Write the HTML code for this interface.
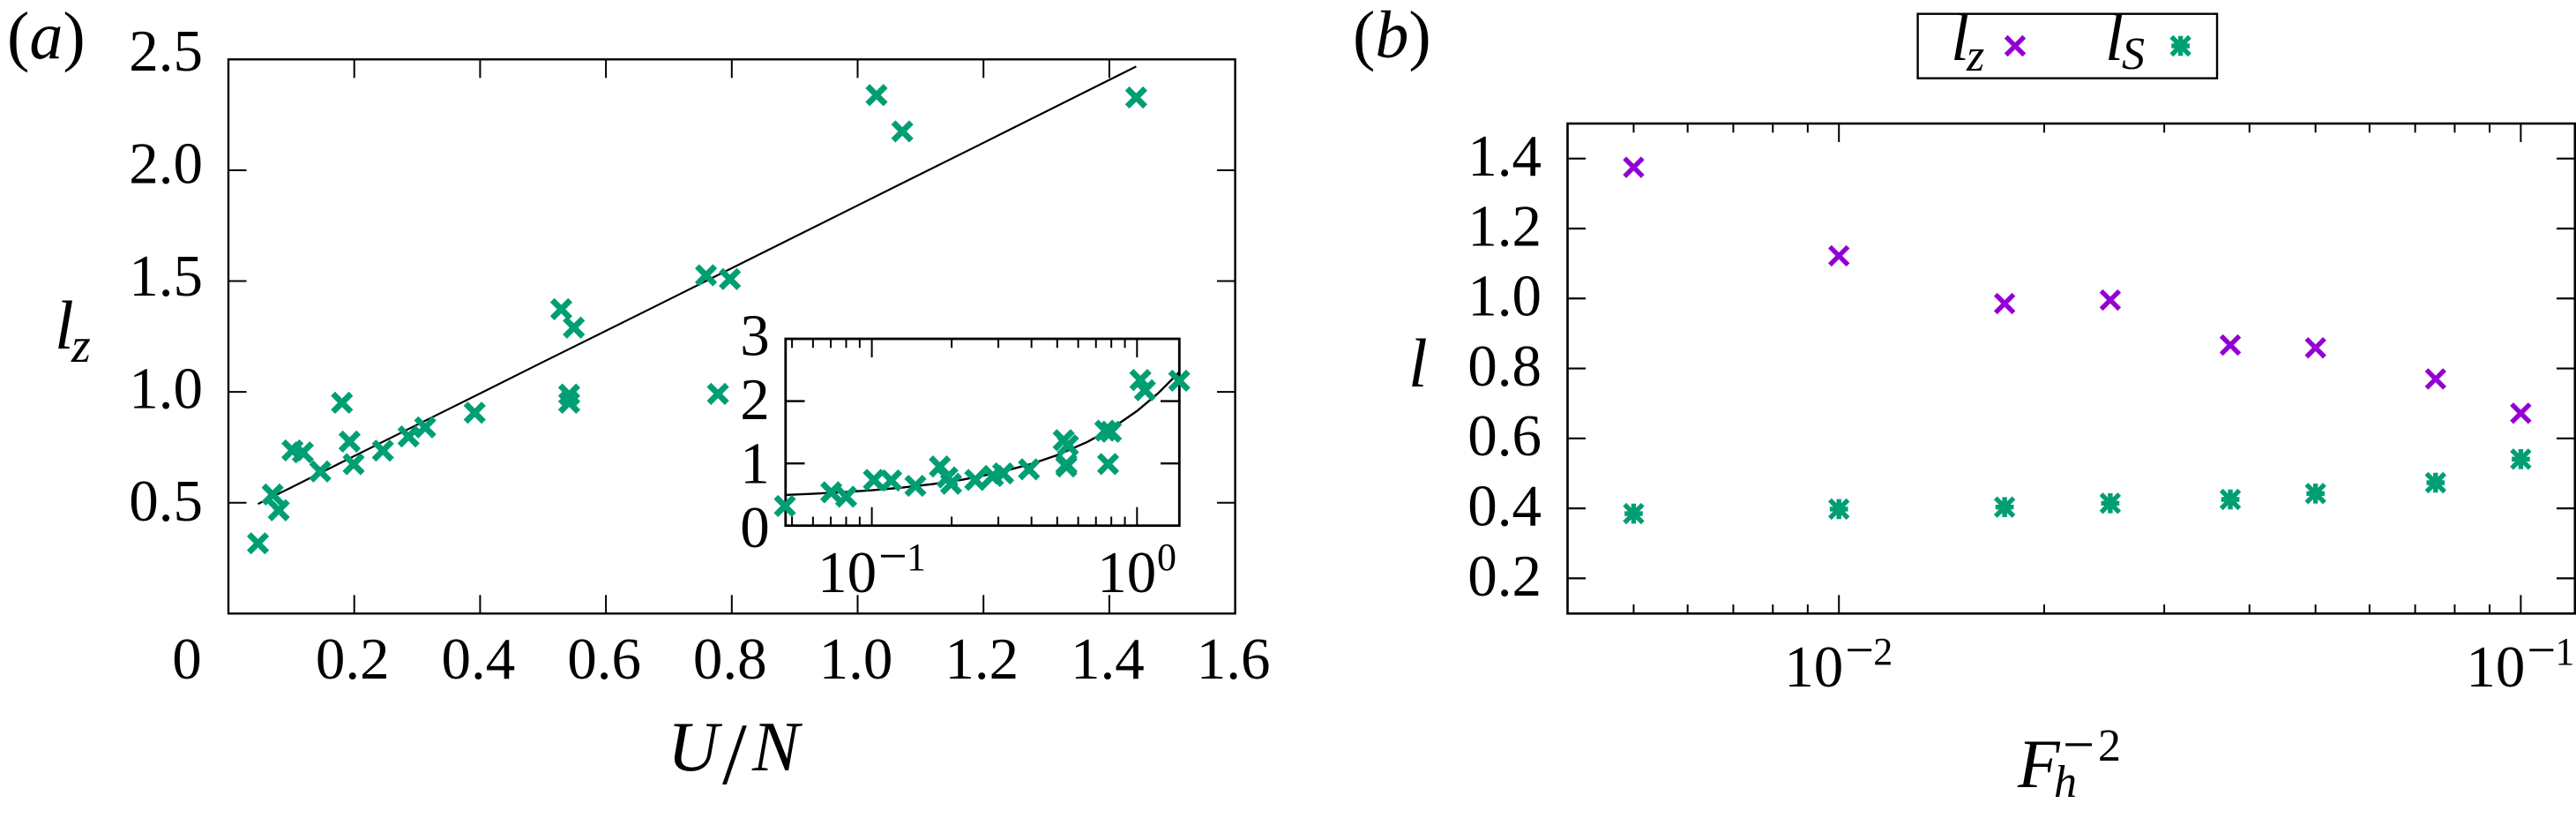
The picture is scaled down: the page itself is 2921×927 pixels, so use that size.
<!DOCTYPE html>
<html lang="en">
<head>
<meta charset="utf-8">
<title>Length scales versus U/N and Fh^-2</title>
<style>
html,body{margin:0;padding:0;background:#fff;width:2921px;height:927px;overflow:hidden}
svg{display:block}
text{font-family:"Liberation Serif","Times New Roman",serif;fill:#000}
.it{font-style:italic}
</style>
</head>
<body>
<svg id="fig" xmlns="http://www.w3.org/2000/svg" width="2921" height="927" viewBox="0 0 2921 927">
  <rect x="0" y="0" width="2921" height="927" fill="#fff"/>

  <g id="panel-a">
    <text x="8" y="66" font-size="76">(<tspan class="it">a</tspan>)</text>
    <g>
      <text class="it" x="62" y="395" font-size="78">l</text>
      <text class="it" x="81" y="410" font-size="56">z</text>
    </g>
    <g>
      <text class="it" x="757" y="873" font-size="80">U</text>
      <text x="819" y="888" font-size="100">/</text>
      <text class="it" x="853" y="873" font-size="80">N</text>
    </g>
    <rect x="259" y="67.3" width="1141.6" height="628" fill="none" stroke="#000" stroke-width="2.4"/>
    <g id="a-ticks"></g>
    <g id="a-marks"></g>
  </g>

  <g id="panel-inset">
    <rect x="890.8" y="384" width="446.5" height="211.7" fill="none" stroke="#000" stroke-width="2.8"/>
    <g id="i-ticks"></g>
    <g id="i-marks"></g>
  </g>

  <g id="panel-b">
    <text x="1534" y="65" font-size="76">(<tspan class="it">b</tspan>)</text>
    <text class="it" x="1597" y="438" font-size="78">l</text>
    <g>
      <text class="it" x="2288" y="892" font-size="78">F</text>
      <text class="it" x="2329" y="903" font-size="52">h</text>
      <text x="2339" y="865" font-size="64">−</text>
      <text x="2379" y="862" font-size="52">2</text>
    </g>
    <rect x="1777.5" y="140" width="1142.3" height="555.3" fill="none" stroke="#000" stroke-width="2.6"/>
    <g id="b-ticks"></g>
    <g id="b-marks"></g>
    <g id="legend">
      <rect x="2174.6" y="15.7" width="339.4" height="73" fill="#fff" stroke="#000" stroke-width="2.4"/>
      <g>
        <text class="it" x="2212" y="68" font-size="76">l</text>
        <text class="it" x="2230" y="80" font-size="52">z</text>
      </g>
      <g>
        <text class="it" x="2387" y="68" font-size="76">l</text>
        <text class="it" x="2406" y="78" font-size="52">S</text>
      </g>
    </g>
  </g>
</svg>

<script>
// Panel (a) data: lz against U/N
var uValues = [0.047,0.0703,0.08,0.1018,0.1183,0.146,0.1805,0.1926,0.199,0.2455,0.2863,0.3127,0.3914,0.529,0.5416,0.5416,0.549,0.759,0.778,0.797,1.03,1.071,1.4427];
var lzValues = [0.317,0.537,0.466,0.736,0.727,0.641,0.951,0.776,0.674,0.735,0.799,0.84,0.906,1.373,0.988,0.951,1.29,1.526,0.991,1.509,2.339,2.175,2.328];
// Fitted curve
var fitU = [0.047,0.06,0.08,0.1,0.13,0.17,0.22,0.3,0.4,0.5,0.65,0.8,1.0,1.2,1.4427];
var fitL = [0.494,0.513,0.541,0.569,0.612,0.668,0.739,0.852,0.993,1.135,1.346,1.558,1.841,2.124,2.468];
var aXTicks = [0,0.2,0.4,0.6,0.8,1.0,1.2,1.4,1.6];
var aXLabels = ['0','0.2','0.4','0.6','0.8','1.0','1.2','1.4','1.6'];
var aYTicks = [0.5,1.0,1.5,2.0,2.5];
var aYLabels = ['0.5','1.0','1.5','2.0','2.5'];
// Inset tick values
var insetYTicks = [0,1,2,3];
var insetYLabels = ['0','1','2','3'];
var insetMajor = [0.1,1];
var insetMajorBase = ['10','10'];
var insetMajorExp = ['1','0'];
var insetMinor = [0.05,0.06,0.07,0.08,0.09,0.2,0.3,0.4,0.5,0.6,0.7,0.8,0.9];
// Panel (b) data
var fhValues = [0.005,0.01,0.0175,0.025,0.0375,0.05,0.075,0.1];
var lzSeries = [1.375,1.122,0.9855,0.9955,0.867,0.859,0.77,0.672];
var lsSeries = [0.385,0.398,0.4036,0.4146,0.4255,0.4424,0.4734,0.5407];
var bYTicks = [0.2,0.4,0.6,0.8,1.0,1.2,1.4];
var bYLabels = ['0.2','0.4','0.6','0.8','1.0','1.2','1.4'];
var bMajor = [0.01,0.1];
var bMajorExp = ['2','1'];
var bMinor = [0.005,0.006,0.007,0.008,0.009,0.02,0.03,0.04,0.05,0.06,0.07,0.08,0.09];

var NS = 'http://www.w3.org/2000/svg';
var GREEN = '#009e73';
var PURPLE = '#9400d3';

// axis functions
function ax(v){ return 259 + v * 713.5; }
function ay(v){ return 695.3 - v * 251.2; }
function ix(v){ return 988.6 + (Math.log10(v) + 1) * 300.7; }
function iy(v){ return 595.8 - v * 70.6; }
function bx(v){ return 2085.2 + (Math.log10(v) + 2) * 773.2; }
function by(v){ return 179.7 + (1.4 - v) * 396.4; }

function line(parent, x1, y1, x2, y2, w){
  var l = document.createElementNS(NS, 'line');
  l.setAttribute('x1', x1);
  l.setAttribute('y1', y1);
  l.setAttribute('x2', x2);
  l.setAttribute('y2', y2);
  l.setAttribute('stroke', '#000');
  l.setAttribute('stroke-width', w);
  parent.appendChild(l);
  return l;
}
function label(parent, x, y, s, size, anchor){
  var t = document.createElementNS(NS, 'text');
  t.setAttribute('x', x);
  t.setAttribute('y', y);
  t.setAttribute('font-size', size);
  if (anchor) t.setAttribute('text-anchor', anchor);
  t.textContent = s;
  parent.appendChild(t);
  return t;
}
function marker(parent, x, y, kind, color, w, r){
  var p = document.createElementNS(NS, 'path');
  var d = 'M' + (x-r) + ',' + (y-r) + 'L' + (x+r) + ',' + (y+r) + 'M' + (x-r) + ',' + (y+r) + 'L' + (x+r) + ',' + (y-r);
  if (kind === 'star') {
    d += 'M' + x + ',' + (y-r-1) + 'L' + x + ',' + (y+r+1) + 'M' + (x-r) + ',' + y + 'L' + (x+r) + ',' + y;
  }
  p.setAttribute('d', d);
  p.setAttribute('fill', 'none');
  p.setAttribute('stroke', color);
  p.setAttribute('stroke-width', w);
  parent.appendChild(p);
  return p;
}
function curve(parent, xs, ys, fx, fy, w){
  var pts = [];
  for (var i = 0; i < xs.length; i++) pts.push(fx(xs[i]).toFixed(1) + ',' + fy(ys[i]).toFixed(1));
  var p = document.createElementNS(NS, 'polyline');
  p.setAttribute('points', pts.join(' '));
  p.setAttribute('fill', 'none');
  p.setAttribute('stroke', '#000');
  p.setAttribute('stroke-width', w);
  parent.appendChild(p);
  return p;
}

var aT = document.getElementById('a-ticks');
var aM = document.getElementById('a-marks');
var iT = document.getElementById('i-ticks');
var iM = document.getElementById('i-marks');
var bT = document.getElementById('b-ticks');
var bM = document.getElementById('b-marks');
var leg = document.getElementById('legend');
var el, i;

// Panel (a) ticks and labels
for (i = 0; i < aXTicks.length; i++) {
  if (i > 0 && i < aXTicks.length - 1) {
    el = line(aT, ax(aXTicks[i]), 695.3, ax(aXTicks[i]), 674.3, 2);
    
    
    el = line(aT, ax(aXTicks[i]), 67.3, ax(aXTicks[i]), 88.3, 2);
    
    
  }
  el = label(aT, i === 0 ? 212 : ax(aXTicks[i]) - 2, 769, aXLabels[i], 67, 'middle');
  
  
}
for (i = 0; i < aYTicks.length; i++) {
  if (aYTicks[i] < 2.5) {
    el = line(aT, 259, ay(aYTicks[i]), 279.5, ay(aYTicks[i]), 2);
    
    
    el = line(aT, 1400.6, ay(aYTicks[i]), 1380, ay(aYTicks[i]), 2);
    
    
  }
  el = label(aT, 230, 590 - i * 127.5, aYLabels[i], 67, 'end');
  
  
}

// Panel (a) series
el = curve(aM, fitU, fitL, ax, ay, 2.2);


for (i = 0; i < uValues.length; i++) {
  el = marker(aM, ax(uValues[i]), ay(lzValues[i]), 'cross', GREEN, 6.8, 10.2);
  
  
}

// Inset ticks and labels
for (i = 0; i < insetYTicks.length; i++) {
  if (i > 0 && i < insetYTicks.length - 1) {
    el = line(iT, 890.8, iy(insetYTicks[i]), 912.5, iy(insetYTicks[i]), 2.4);
    
    
    el = line(iT, 1337.3, iy(insetYTicks[i]), 1316, iy(insetYTicks[i]), 2.4);
    
    
  }
  el = label(iT, 856, 620 - i * 72.5, insetYLabels[i], 67, 'middle');
  
  
}
for (i = 0; i < insetMinor.length; i++) {
  el = line(iT, ix(insetMinor[i]), 595.7, ix(insetMinor[i]), 585.5, 2);
  
  
  el = line(iT, ix(insetMinor[i]), 384, ix(insetMinor[i]), 394.2, 2);
  
  
}
for (i = 0; i < insetMajor.length; i++) {
  el = line(iT, ix(insetMajor[i]), 595.7, ix(insetMajor[i]), 574.7, 2);
  
  
  el = line(iT, ix(insetMajor[i]), 384, ix(insetMajor[i]), 405, 2);
  
  
  el = label(iT, ix(insetMajor[i]) - (i === 0 ? 61.5 : 45), 671, insetMajorBase[i], 67);
  
  
  if (i === 0) {
    el = label(iT, ix(insetMajor[i]) + 7.4, 649.5, '−', 58);
    
    
  }
  el = label(iT, ix(insetMajor[i]) + (i === 0 ? 39.4 : 22.7), 646, insetMajorExp[i], 44);
  
  
}

// Inset series
el = curve(iM, fitU, fitL, ix, iy, 2.4);


for (i = 0; i < uValues.length; i++) {
  el = marker(iM, ix(uValues[i]), iy(lzValues[i]), 'cross', GREEN, 6.8, 10.2);
  
  
}

// Panel (b) ticks and labels
for (i = 0; i < bYTicks.length; i++) {
  el = line(bT, 1777.5, by(bYTicks[i]), 1798, by(bYTicks[i]), 2.2);
  
  
  el = line(bT, 2919.8, by(bYTicks[i]), 2899, by(bYTicks[i]), 2.2);
  
  
  el = label(bT, 1748, by(bYTicks[i]) + 19.4, bYLabels[i], 67, 'end');
  
  
}
for (i = 0; i < bMinor.length; i++) {
  el = line(bT, bx(bMinor[i]), 695.3, bx(bMinor[i]), 685, 2);
  
  
  el = line(bT, bx(bMinor[i]), 140, bx(bMinor[i]), 150.3, 2);
  
  
}
for (i = 0; i < bMajor.length; i++) {
  el = line(bT, bx(bMajor[i]), 695.3, bx(bMajor[i]), 674.3, 2);
  
  
  el = line(bT, bx(bMajor[i]), 140, bx(bMajor[i]), 161, 2);
  
  
  el = label(bT, bx(bMajor[i]) - 62, 778, '10', 67);
  
  
  el = label(bT, bx(bMajor[i]) + 7, 756, '−', 58);
  
  
  el = label(bT, bx(bMajor[i]) + 39, 753, bMajorExp[i], 44);
  
  
}

// Panel (b) series
for (i = 0; i < fhValues.length; i++) {
  el = marker(bM, bx(fhValues[i]), by(lzSeries[i]), 'cross', PURPLE, 5.4, 10.3);
  
  
  el = marker(bM, bx(fhValues[i]), by(lsSeries[i]), 'star', GREEN, 5.4, 10.3);
  
  
}

// Legend symbols
el = marker(leg, 2285, 52, 'cross', PURPLE, 5.4, 10.3);


el = marker(leg, 2472.6, 52, 'star', GREEN, 5.4, 10.3);


</script>
</body>
</html>
